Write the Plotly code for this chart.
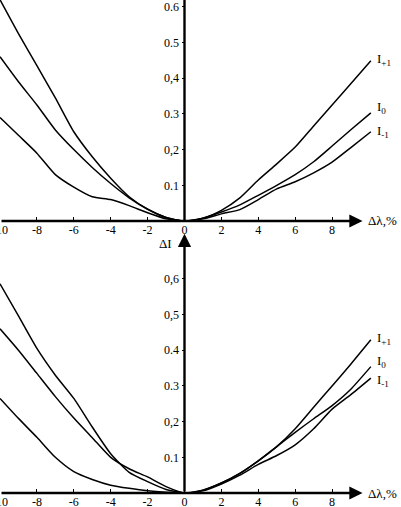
import plotly.graph_objects as go

# shared wavelength-deviation grid (Δλ, %)
dl = [-10, -9, -8, -7, -6, -5, -4, -3, -2, -1, 0, 1, 2, 3, 4, 5, 6, 7, 8, 9, 10.1]

# upper panel
top_ip1 = [0.62, 0.525, 0.435, 0.345, 0.25, 0.18, 0.12, 0.068, 0.033, 0.01, 0,
           0.008, 0.03, 0.065, 0.115, 0.16, 0.207, 0.266, 0.325, 0.384, 0.449]
top_i0 = [0.46, 0.39, 0.325, 0.255, 0.2, 0.15, 0.105, 0.065, 0.033, 0.01, 0,
          0.008, 0.025, 0.045, 0.072, 0.1, 0.13, 0.166, 0.21, 0.255, 0.303]
top_im1 = [0.29, 0.24, 0.19, 0.13, 0.095, 0.068, 0.06, 0.043, 0.023, 0.006, 0,
           0.006, 0.02, 0.032, 0.06, 0.09, 0.11, 0.135, 0.165, 0.205, 0.25]

# lower panel
bot_ip1 = [0.586, 0.496, 0.405, 0.33, 0.265, 0.185, 0.11, 0.058, 0.032, 0.01, 0,
           0.008, 0.028, 0.055, 0.09, 0.13, 0.18, 0.24, 0.3, 0.36, 0.429]
bot_i0 = [0.46, 0.4, 0.335, 0.27, 0.21, 0.155, 0.1, 0.068, 0.045, 0.018, 0,
          0.008, 0.028, 0.055, 0.09, 0.13, 0.17, 0.208, 0.245, 0.29, 0.354]
bot_im1 = [0.265, 0.209, 0.156, 0.1, 0.06, 0.038, 0.022, 0.013, 0.006, 0.002, 0,
           0.006, 0.025, 0.05, 0.08, 0.105, 0.135, 0.18, 0.235, 0.275, 0.322]

xtick_vals = [-10, -8, -6, -4, -2, 0, 2, 4, 6, 8]
xtick_text = ["-10", "-8", "-6", "-4", "-2", "0", "2", "4", "6", "8"]
ytick_vals = [0.1, 0.2, 0.3, 0.4, 0.5, 0.6]
top_ytext = ["0.1", "0,2", "0.3", "0,4", "0.5", "0.6"]
bot_ytext = ["0.1", "0,2", "0.3", "0.4", "0,5", "0,6"]

labels = ["I<sub>+1</sub>", "I<sub>0</sub>", "I<sub>-1</sub>"]
top_label_y = [0.451, 0.318, 0.25]
bot_label_y = [0.434, 0.368, 0.314]

FONT = "Liberation Serif"
W, H = 401, 507
PX_X = 18.45      # pixels per Δλ unit
PX_Y = 357.0      # pixels per 1.0 of ΔI

fig = go.Figure()

line = dict(color="black", width=1.5, shape="spline", smoothing=0.6)
for ys in (top_ip1, top_i0, top_im1):
    fig.add_trace(go.Scatter(x=dl, y=ys, mode="lines", line=line, xaxis="x", yaxis="y",
                             showlegend=False, hoverinfo="skip"))
for ys in (bot_ip1, bot_i0, bot_im1):
    fig.add_trace(go.Scatter(x=dl, y=ys, mode="lines", line=line, xaxis="x2", yaxis="y2",
                             showlegend=False, hoverinfo="skip"))

xrange = [-10, -10 + W / PX_X]
y0_top, y0_bot = 221, 493   # pixel rows of ΔI = 0

top_rng = [-0.01, 0.619]
bot_rng = [-0.01, 0.75]


def dom(y0, rng):
    lo = y0 - rng[0] * PX_Y
    hi = y0 - rng[1] * PX_Y
    return [max(0.0, 1 - lo / H), min(1.0, 1 - hi / H)]


ax_font = dict(family=FONT, size=12, color="black")
xcommon = dict(range=xrange, domain=[0, 1], tickvals=xtick_vals, ticktext=xtick_text,
               ticks="inside", ticklen=4, tickwidth=1, tickcolor="black",
               showgrid=False, zeroline=False, showline=False, tickfont=ax_font,
               anchor="free", ticklabeloverflow="allow", automargin=False)
ycommon = dict(tickvals=ytick_vals, ticks="outside", ticklen=3, tickwidth=1,
               tickcolor="black", showgrid=False, zeroline=False, showline=False,
               tickfont=ax_font, anchor="free", position=(184.5) / W,
               ticklabeloverflow="allow", automargin=False)

fig.update_layout(
    template="none",
    width=W, height=H, margin=dict(l=0, r=0, t=0, b=0, pad=0, autoexpand=False),
    paper_bgcolor="white", plot_bgcolor="rgba(0,0,0,0)",
    font=dict(family=FONT, color="black"),
    xaxis=dict(xcommon, position=1 - y0_top / H),
    xaxis2=dict(xcommon, position=1 - y0_bot / H),
    yaxis=dict(ycommon, range=top_rng, domain=dom(y0_top, top_rng), ticktext=top_ytext),
    yaxis2=dict(ycommon, range=bot_rng, domain=dom(y0_bot, bot_rng), ticktext=bot_ytext),
)

# axis lines with arrows
arrow = dict(showarrow=True, arrowhead=2, arrowsize=1.1, arrowwidth=2.4,
             arrowcolor="black", text="", standoff=0)
for xr, yr in (("x", "y"), ("x2", "y2")):
    fig.add_annotation(arrow, x=9.65, y=0, ax=-10, ay=0, xref=xr, yref=yr,
                       axref=xr, ayref=yr)
    fig.add_annotation(x=9.85, y=0, xref=xr, yref=yr, text="Δλ,%", showarrow=False,
                       xanchor="left", yanchor="middle",
                       font=dict(family=FONT, size=13, color="black"))

fig.add_shape(type="line", x0=0, x1=0, y0=0, y1=0.62, xref="x", yref="y",
              line=dict(color="black", width=2.4))
fig.add_annotation(arrow, x=0, y=0.726, ax=0, ay=0, xref="x2", yref="y2",
                   axref="x2", ayref="y2")
fig.add_annotation(x=-0.55, y=0.7, xref="x2", yref="y2", text="ΔI", showarrow=False,
                   xanchor="right", yanchor="middle",
                   font=dict(family=FONT, size=13, color="black"))

# curve labels
for txt, yv in zip(labels, top_label_y):
    fig.add_annotation(x=10.35, y=yv, xref="x", yref="y", text=txt, showarrow=False,
                       xanchor="left", yanchor="middle",
                       font=dict(family=FONT, size=13, color="black"))
for txt, yv in zip(labels, bot_label_y):
    fig.add_annotation(x=10.35, y=yv, xref="x2", yref="y2", text=txt, showarrow=False,
                       xanchor="left", yanchor="middle",
                       font=dict(family=FONT, size=13, color="black"))

# page body has a default margin; drop it so the figure sits at the window corner
fig.write_html("out.html", config={"displayModeBar": False},
               post_script="document.body.style.margin='0';document.body.style.overflow='hidden';")
